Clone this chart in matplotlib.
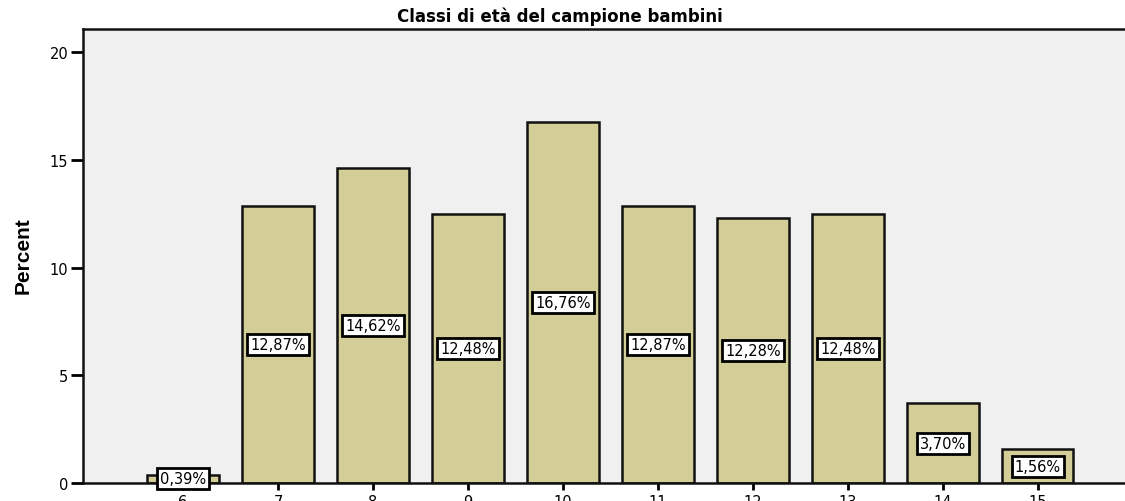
import matplotlib
matplotlib.use("Agg")
import matplotlib.pyplot as plt
from matplotlib import font_manager

# Age classes of the children sample (SPSS style bar chart)
ages = [6, 7, 8, 9, 10, 11, 12, 13, 14, 15]
percent = [0.39, 12.87, 14.62, 12.48, 16.76, 12.87, 12.28, 12.48, 3.70, 1.56]
labels = ["0,39%", "12,87%", "14,62%", "12,48%", "16,76%",
          "12,87%", "12,28%", "12,48%", "3,70%", "1,56%"]
y_ticks = [0, 5, 10, 15, 20]

names = {f.name for f in font_manager.fontManager.ttflist}
narrow_font = "Liberation Sans Narrow" if "Liberation Sans Narrow" in names else "Liberation Sans"

plt.rcParams["font.family"] = ["DejaVu Sans"]

W, H = 1125, 502
fig = plt.figure(figsize=(W / 100, H / 100), dpi=100)
fig.patch.set_facecolor("white")

left, right, top, bottom = 83, 1130, 30, 484
ax = fig.add_axes([left / W, (H - bottom) / H, (right - left) / W, (bottom - top) / H])
ax.set_facecolor("#f0f0f0")

ax.bar(ages, percent, width=0.75, color="#d3ce97", edgecolor="#111111", linewidth=1.8, zorder=2)

for x, v, lab in zip(ages, percent, labels):
    ax.text(x, v / 2, lab, ha="center", va="center", fontsize=10.5, zorder=4,
            bbox=dict(boxstyle="square,pad=0.2", facecolor="white", edgecolor="black", linewidth=2))

ax.set_xlim(4.947, 15.97)
ax.set_ylim(0, 21.07)
ax.set_xticks(ages)
ax.set_yticks(y_ticks)
ax.tick_params(axis="y", direction="out", length=9, width=2, pad=1.5, labelsize=10.5)
ax.tick_params(axis="x", direction="out", length=5, width=2, pad=3, labelsize=10.5)

for side in ["left", "bottom", "top"]:
    ax.spines[side].set_linewidth(1.8)
    ax.spines[side].set_color("#111111")
ax.spines["right"].set_visible(False)

fig.text(560 / W, 1 - 17 / H, "Classi di età del campione bambini", ha="center", va="center",
         fontsize=12, fontweight="bold")
fig.text(23 / W, 1 - 256 / H, "Percent", ha="center", va="center", rotation=90,
         fontsize=15, fontweight="bold", family=narrow_font)

fig.savefig("out.png", dpi=100)
